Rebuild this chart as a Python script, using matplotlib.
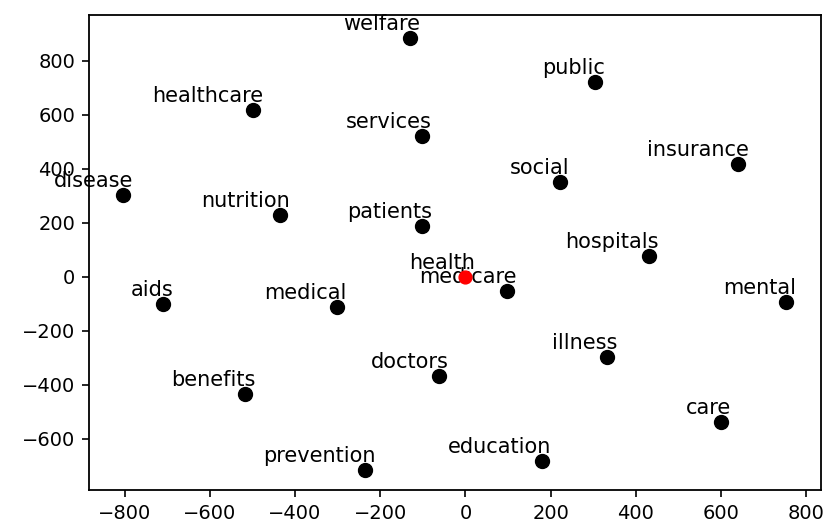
import matplotlib
matplotlib.use("Agg")
import matplotlib.pyplot as plt

# Word-embedding positions (2-D projection)
words = ["welfare", "healthcare", "services", "disease", "nutrition", "patients",
         "public", "insurance", "social", "hospitals", "health", "medicare",
         "mental", "illness", "doctors", "care", "education", "aids", "medical",
         "benefits", "prevention"]
xs = [-130, -498, -102, -804, -435, -102, 303, 641, 221, 430, 0, 97,
      753, 333, -62, 600, 179, -709, -302, -517, -235]
ys = [885, 619, 523, 304, 230, 190, 723, 417, 353, 78, 0, -52,
      -91, -295, -367, -538, -681, -100, -110, -433, -715]
query_word = "health"

fig = plt.figure(figsize=(8.23, 5.29), dpi=100)
ax = fig.add_axes([0.1085, 0.0737, 0.8887, 0.8979])

# neighbours in black, the query word in red on top
nx = [x for w, x in zip(words, xs) if w != query_word]
ny = [y for w, y in zip(words, ys) if w != query_word]
qx = [x for w, x in zip(words, xs) if w == query_word]
qy = [y for w, y in zip(words, ys) if w == query_word]
ax.scatter(nx, ny, s=100, c="black", zorder=4)
ax.scatter(qx, qy, s=85, c="red", zorder=5)

for w, x, y in zip(words, xs, ys):
    ax.annotate(w, xy=(x, y), xytext=(10, 4), textcoords="offset pixels",
                ha="right", va="bottom", fontsize=15, color="black", zorder=1)

ax.set_xlim(-883, 834)
ax.set_ylim(-789, 970)
ax.set_xticks(range(-800, 801, 200))
ax.set_yticks(range(-600, 801, 200))
ax.tick_params(labelsize=14, length=5, width=1.2, pad=5)
for sp in ax.spines.values():
    sp.set_linewidth(1.3)

fig.savefig("out.png", dpi=100)
